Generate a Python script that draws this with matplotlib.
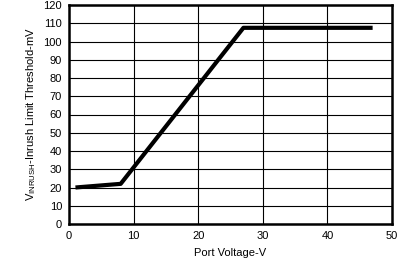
import matplotlib
matplotlib.use("Agg")
import matplotlib.pyplot as plt

# data
port_v = [1, 8, 27, 47]
threshold_mv = [20, 22, 107.5, 107.5]
x_ticks = [0, 10, 20, 30, 40, 50]
y_ticks = list(range(0, 121, 10))

plt.rcParams['font.family'] = ['Liberation Sans', 'DejaVu Sans']

fig = plt.figure(figsize=(4.07, 2.66), dpi=100)
ax = fig.add_axes([69 / 407, 1 - 224 / 266, (392 - 69) / 407, (224 - 5) / 266])

ax.plot(port_v, threshold_mv, color="black", linewidth=3.0, solid_capstyle="butt")
ax.set_xlim(0, 50)
ax.set_ylim(0, 120)
ax.set_xticks(x_ticks)
ax.set_yticks(y_ticks)
ax.grid(True, color="black", linewidth=0.8)
ax.tick_params(length=0, labelsize=8, pad=5)
for s in ax.spines.values():
    s.set_linewidth(1.8)

ax.set_xlabel("Port Voltage-V", fontsize=8, labelpad=5)
ax.set_ylabel(r"V$_{\mathregular{INRUSH}}$-Inrush Limit Threshold-mV", fontsize=8, labelpad=4)

fig.savefig("out.png", dpi=100)
